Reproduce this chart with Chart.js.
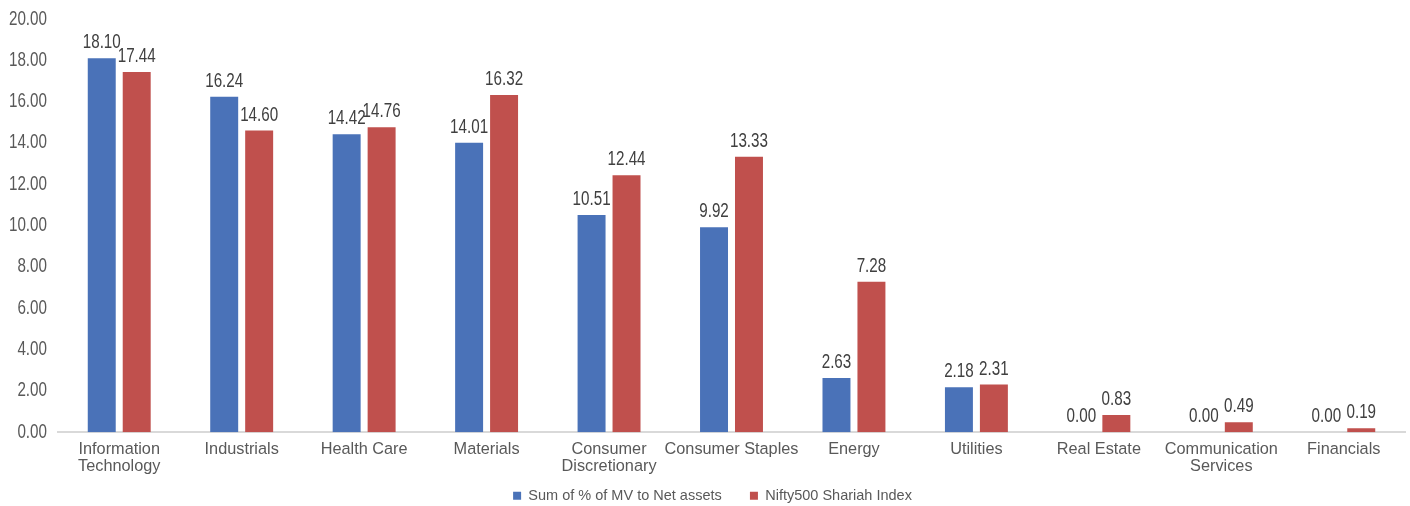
<!DOCTYPE html>
<html>
<head>
<meta charset="utf-8">
<script src="https://cdn.jsdelivr.net/npm/chart.js@4"></script>
<style>
  html, body { margin: 0; padding: 0; background: #fff; }
  #wrap { width: 1410px; height: 506px; }
</style>
</head>
<body>
<div id="wrap"><canvas id="chart" width="1410" height="506"></canvas></div>
<script>
const categories = [
  ['Information', 'Technology'],
  'Industrials',
  'Health Care',
  'Materials',
  ['Consumer', 'Discretionary'],
  'Consumer Staples',
  'Energy',
  'Utilities',
  'Real Estate',
  ['Communication', 'Services'],
  'Financials'
];
const fundWeights = [18.10, 16.24, 14.42, 14.01, 10.51, 9.92, 2.63, 2.18, 0.00, 0.00, 0.00];
const indexWeights = [17.44, 14.60, 14.76, 16.32, 12.44, 13.33, 7.28, 2.31, 0.83, 0.49, 0.19];
const seriesNames = ['Sum of % of MV to Net assets', 'Nifty500 Shariah Index'];

const regular = '"Liberation Sans", Arial, sans-serif';

// no narrow font installed, so squeeze the regular one
function narrowText(ctx, text, x, y, align) {
  const sx = 0.76;
  ctx.save();
  ctx.translate(x, y);
  ctx.scale(sx, 1);
  ctx.textAlign = align;
  ctx.fillText(text, 0, 0);
  ctx.restore();
}

// value above every bar + y tick labels in condensed style
const valueLabels = {
  id: 'valueLabels',
  afterDraw(chart) {
    const ctx = chart.ctx;
    ctx.save();
    ctx.font = '20px ' + regular;
    ctx.textBaseline = 'alphabetic';
    ctx.fillStyle = '#404040';
    chart.data.datasets.forEach((ds, i) => {
      chart.getDatasetMeta(i).data.forEach((bar, j) => {
        narrowText(ctx, ds.data[j].toFixed(2), bar.x, bar.y - 10, 'center');
      });
    });
    const y = chart.scales.y;
    ctx.fillStyle = '#595959';
    ctx.textBaseline = 'middle';
    y.ticks.forEach(t => {
      narrowText(ctx, t.value.toFixed(2), chart.chartArea.left - 11, y.getPixelForValue(t.value), 'right');
    });
    ctx.restore();
  }
};

new Chart(document.getElementById('chart'), {
  type: 'bar',
  data: {
    labels: categories,
    datasets: [
      { label: seriesNames[0], data: fundWeights, backgroundColor: '#4A72B8',
        categoryPercentage: 0.571, barPercentage: 0.8 },
      { label: seriesNames[1], data: indexWeights, backgroundColor: '#C0504D',
        categoryPercentage: 0.571, barPercentage: 0.8 }
    ]
  },
  options: {
    responsive: false,
    animation: false,
    layout: { padding: { top: 19, right: 5, left: 20, bottom: -7 } },
    plugins: {
      tooltip: { enabled: false },
      legend: {
        position: 'bottom',
        labels: {
          boxWidth: 8, boxHeight: 8, padding: 4,
          color: '#595959',
          font: { family: regular, size: 14.5 },
          generateLabels(chart) {
            const items = Chart.defaults.plugins.legend.labels.generateLabels(chart);
            items[0].text += '      ';
            return items;
          }
        }
      }
    },
    scales: {
      x: {
        grid: { display: false, drawTicks: false },
        border: { color: '#D9D9D9', width: 2 },
        ticks: {
          color: '#595959', padding: 9, maxRotation: 0, autoSkip: false,
          font: { family: regular, size: 16.3, lineHeight: 1.05 }
        }
      },
      y: {
        min: 0, max: 20,
        grid: { display: false, drawTicks: false },
        border: { display: false },
        ticks: { stepSize: 2, display: false },
        afterFit(scale) { scale.width = 38; }
      }
    }
  },
  plugins: [valueLabels]
});
</script>
</body>
</html>
